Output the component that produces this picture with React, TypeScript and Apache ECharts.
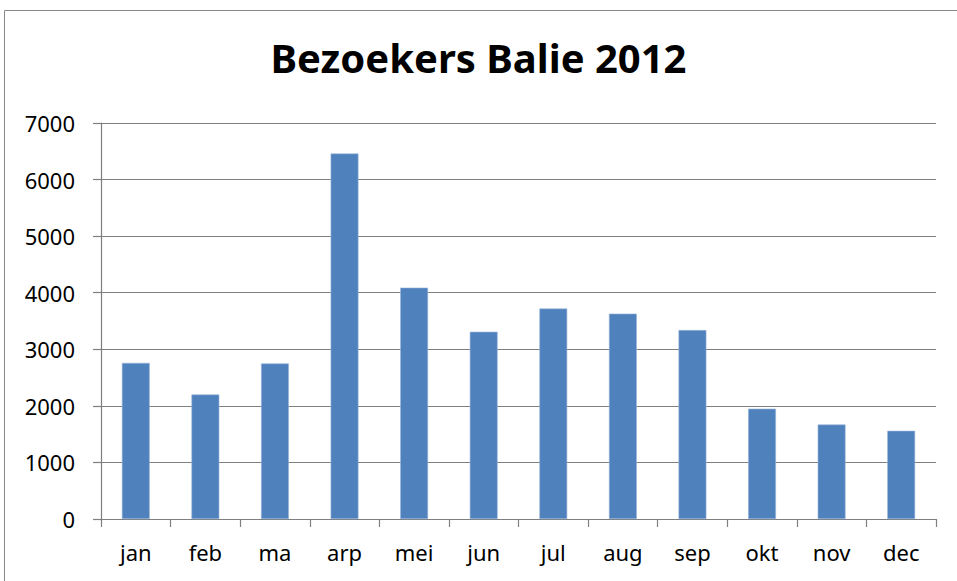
import React, { useEffect, useRef } from "react";
import * as echarts from "echarts";

const categories = ["jan", "feb", "ma", "arp", "mei", "jun", "jul", "aug", "sep", "okt", "nov", "dec"];
const visitors = [2760, 2200, 2750, 6460, 4090, 3310, 3720, 3630, 3340, 1950, 1670, 1560];
const yTicks = { min: 0, max: 7000, interval: 1000 };
const titleText = "Bezoekers Balie 2012";

export default function App() {
  const ref = useRef<HTMLDivElement>(null);
  useEffect(() => {
    document.body.style.margin = "0";
    const chart = echarts.init(ref.current!, undefined, { renderer: "svg" });
    const axisColor = "#7f7f7f";
    const font = "'Noto Sans', 'Open Sans', sans-serif";
    chart.setOption({
      animation: false,
      backgroundColor: "#ffffff",
      title: {
        text: titleText,
        left: "center",
        top: 37,
        padding: [0, 0, 0, 11],
        textStyle: { fontFamily: font, fontWeight: "bold", fontSize: 40, color: "#000" },
      },
      graphic: [
        {
          type: "rect",
          shape: { x: 4.5, y: 10.5, width: 960, height: 600 },
          style: { fill: "none", stroke: "#888888", lineWidth: 1 },
          silent: true,
        },
      ],
      grid: { left: 101, right: 21, top: 123, bottom: 62, containLabel: false },
      xAxis: {
        type: "category",
        data: categories,
        axisLine: { show: true, lineStyle: { color: axisColor, width: 1.2 } },
        axisTick: { show: true, length: 8, alignWithLabel: false, lineStyle: { color: axisColor, width: 1.2 } },
        axisLabel: { color: "#000", fontFamily: font, fontSize: 22, margin: 22, interval: 0 },
        splitLine: { show: false },
      },
      yAxis: {
        type: "value",
        min: yTicks.min,
        max: yTicks.max,
        interval: yTicks.interval,
        axisLine: { show: true, lineStyle: { color: axisColor, width: 1.2 } },
        axisTick: { show: true, length: 8, lineStyle: { color: axisColor, width: 1.2 } },
        axisLabel: {
          color: "#000",
          fontFamily: font,
          fontSize: 22,
          margin: 26,
          formatter: (v: number) => String(v),
        },
        splitLine: { show: true, lineStyle: { color: axisColor, width: 1.2 } },
      },
      series: [
        {
          type: "bar",
          data: visitors,
          barWidth: "40%",
          itemStyle: { color: "#4F81BD", borderColor: "#9ab6da", borderWidth: 0.6 },
        },
      ],
    });
    return () => chart.dispose();
  }, []);
  return <div ref={ref} style={{ position: "fixed", left: 0, top: 0, width: 957, height: 581 }} />;
}
